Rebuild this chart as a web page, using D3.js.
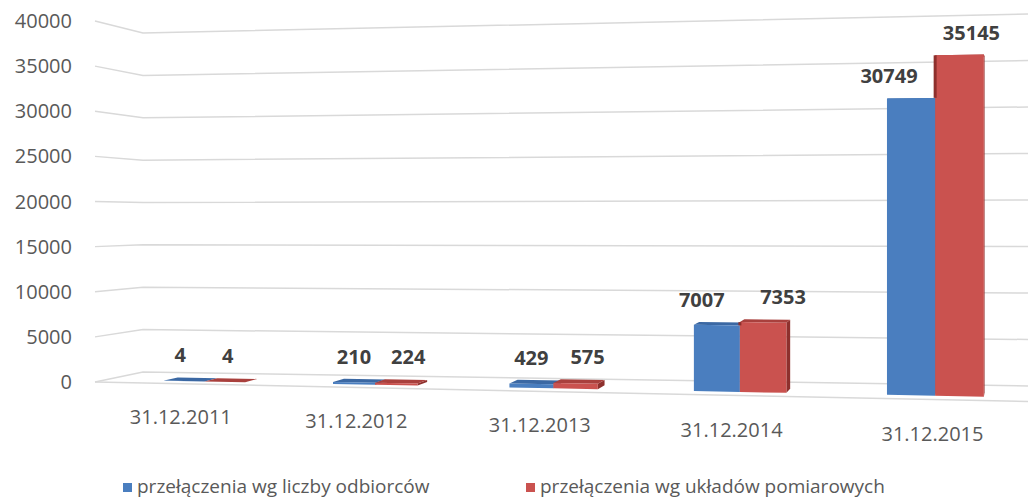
<!DOCTYPE html>
<html>
<head>
<meta charset="utf-8">
<script src="https://cdn.jsdelivr.net/npm/d3@7"></script>
<style>
    body { margin: 0; background: #fff; }
    text { font-family: 'Open Sans', sans-serif; }
</style>
</head>
<body>
<div id="chart-container"></div>
<script>
// chart data
const categories = ['31.12.2011', '31.12.2012', '31.12.2013', '31.12.2014', '31.12.2015'];
const seriesNames = ['przełączenia wg liczby odbiorców', 'przełączenia wg układów pomiarowych'];
const odbiorcy = [4, 210, 429, 7007, 30749];
const uklady = [4, 224, 575, 7353, 35145];
const yTicks = [0, 5000, 10000, 15000, 20000, 25000, 30000, 35000, 40000];

const colors = [
    {front: '#4a7ebf', top: '#3b68a3', side: '#335b90'},
    {front: '#ca524f', top: '#a9403d', side: '#8e302d'}
];

const width = 1028, height = 501;
const K = 0.12; // perspective strength along the floor

const svg = d3.select('#chart-container').append('svg')
    .attr('width', width)
    .attr('height', height);

// value scales for the four corners of the 3d box (front = floor edge, back = wall)
const yFrontLeft = d3.scaleLinear().domain([0, 40000]).range([382, 21]);
const yFrontRight = d3.scaleLinear().domain([0, 40000]).range([401.5, 4]);
const yBackLeft = d3.scaleLinear().domain([0, 40000]).range([372, 33]);
const yBackRight = d3.scaleLinear().domain([0, 40000]).range([386, 14]);
const xFront = d3.scaleLinear().domain([0, 1]).range([95, 1028]);
const xBack = d3.scaleLinear().domain([0, 1]).range([143, 1028]);

// categories along the floor (world units 0..1)
const uScale = d3.scalePoint().domain(categories).range([0.117, 0.909]);
const halfGroup = 0.048;
const depthFront = 0.25, depthBack = 0.55;

const lerp = (a, b, t) => a + (b - a) * t;
const persp = u => u / (1 + K * (1 - u));

const proj = (u, v, d) => {
    const p = persp(u);
    const xf = xFront(p), xb = xBack(p);
    const yf = lerp(yFrontLeft(v), yFrontRight(v), p);
    const yb = lerp(yBackLeft(v), yBackRight(v), p);
    return [lerp(xf, xb, d), lerp(yf, yb, d)];
};

const line = d3.line();
const poly = pts => line(pts) + 'Z';

// gridlines: left wall + back wall
const grid = svg.append('g');
grid.selectAll('path.grid')
    .data(yTicks)
    .enter()
    .append('path')
    .attr('class', 'grid')
    .attr('d', v => line([proj(0, v, 0), proj(0, v, 1), proj(1, v, 1)]))
    .style('fill', 'none')
    .style('stroke', '#d9d9d9')
    .style('stroke-width', 1.5);

// front edge of the floor
grid.append('path')
    .attr('d', line([proj(0, 0, 0), proj(1, 0, 0)]))
    .style('fill', 'none')
    .style('stroke', '#d9d9d9')
    .style('stroke-width', 1.5);

// y tick labels
svg.append('g').selectAll('text')
    .data(yTicks)
    .enter()
    .append('text')
    .text(d => d)
    .attr('x', 72)
    .attr('y', d => yFrontLeft(d) + 7)
    .attr('text-anchor', 'end')
    .style('font-size', '20px')
    .style('fill', '#595959');

// bar data
const barData = categories.flatMap((c, i) => [odbiorcy[i], uklady[i]].map((v, s) => {
    const uc = uScale(c);
    const u0 = s === 0 ? uc - halfGroup : uc;
    const u1 = s === 0 ? uc : uc + halfGroup;
    const other = s === 0 ? uklady[i] : odbiorcy[i];
    return {category: c, series: s, value: v, other, u0, u1};
}));

const bars = svg.append('g').selectAll('g')
    .data(barData)
    .enter()
    .append('g');

// right side face
bars.append('path')
    .attr('d', d => poly([proj(d.u1, 0, depthFront), proj(d.u1, 0, depthBack), proj(d.u1, d.value, depthBack), proj(d.u1, d.value, depthFront)]))
    .style('fill', d => colors[d.series].side);

// top face
bars.append('path')
    .attr('d', d => poly([proj(d.u0, d.value, depthFront), proj(d.u1, d.value, depthFront), proj(d.u1, d.value, depthBack), proj(d.u0, d.value, depthBack)]))
    .style('fill', d => colors[d.series].top);

// front face
bars.append('path')
    .attr('d', d => poly([proj(d.u0, 0, depthFront), proj(d.u1, 0, depthFront), proj(d.u1, d.value, depthFront), proj(d.u0, d.value, depthFront)]))
    .style('fill', d => colors[d.series].front);

// dark edge of the red bar where it rises above the blue one
bars.filter(d => d.series === 1 && d.value > d.other && d.value > 1000)
    .append('path')
    .attr('d', d => line([proj(d.u0, d.value, depthFront), proj(d.u0, d.other, depthFront)]))
    .style('stroke', d => colors[d.series].side)
    .style('stroke-width', 3);

// value labels (spread apart a bit like the original 3d labels)
const labelShift = [
    {1: -4, 2: -2, 3: 0, 4: -15, 5: -22},
    {1: 3, 2: 8, 3: 12, 4: 20, 5: 12}
];
bars.append('text')
    .text(d => d.value)
    .attr('x', d => proj((d.u0 + d.u1) / 2, d.value, depthFront)[0] + labelShift[d.series][String(d.value).length])
    .attr('y', d => Math.min(proj(d.u0, d.value, depthFront)[1], proj(d.u0, d.value, depthBack)[1]) - 15)
    .attr('text-anchor', 'middle')
    .style('font-size', '20px')
    .style('font-weight', 'bold')
    .style('fill', '#404040');

// category labels
svg.append('g').selectAll('text')
    .data(categories)
    .enter()
    .append('text')
    .text(d => d)
    .attr('x', d => proj(uScale(d), 0, -0.3)[0])
    .attr('y', d => proj(uScale(d), 0, -0.3)[1] + 37)
    .attr('text-anchor', 'middle')
    .style('font-size', '20px')
    .style('fill', '#595959');

// legend
const legendX = [123, 526];
const legend = svg.append('g').selectAll('g')
    .data(seriesNames)
    .enter()
    .append('g')
    .attr('transform', (d, i) => `translate(${legendX[i]},483)`);

legend.append('rect')
    .attr('width', 9)
    .attr('height', 9)
    .style('fill', (d, i) => colors[i].front);

legend.append('text')
    .text(d => d)
    .attr('x', 14)
    .attr('y', 10)
    .style('font-size', '19px')
    .style('fill', '#595959');
</script>
</body>
</html>
